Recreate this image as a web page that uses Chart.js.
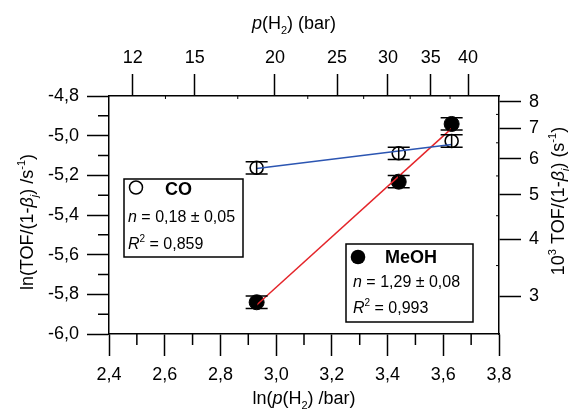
<!DOCTYPE html>
<html>
<head>
<meta charset="utf-8">
<script src="https://cdn.jsdelivr.net/npm/chart.js@4.4.1/dist/chart.umd.min.js"></script>
<style>
html, body { margin: 0; padding: 0; background: #fff; }
</style>
</head>
<body>
<canvas id="myChart" width="569" height="414"></canvas>
<script>
'use strict';

// values
var lnPressure = [2.93, 3.44, 3.63];
var coValues = [-5.162, -5.089, -5.027];
var meohValues = [-5.840, -5.232, -4.941];
var coErrors = [0.031, 0.031, 0.031];
var meohErrors = [0.031, 0.031, 0.031];

// linear fits
var fitX = [2.93, 3.63];
var coFit = [-5.165, -5.044];
var meohFit = [-5.854, -4.963];

// tick labels
var pressureTicks = [12, 15, 20, 25, 30, 35, 40];
var pressureMinor = [13.5, 17.5, 22.5, 27.5, 32.5, 37.5];
var rateTicks = [3, 4, 5, 6, 7, 8];
var rateMinor = [3.5, 4.5, 5.5, 6.5, 7.5];
var xMinor = [2.5, 2.7, 2.9, 3.1, 3.3, 3.5, 3.7];
var yMinor = [-4.9, -5.1, -5.3, -5.5, -5.7, -5.9];

var fontFamily = '"Liberation Sans", Arial, sans-serif';
Chart.defaults.font.family = fontFamily;
Chart.defaults.color = '#000';

function comma(v) {
  return Number(v).toFixed(1).replace('.', ',');
}

function points(xs, ys) {
  var out = [];
  for (var i = 0; i < xs.length; i++) {
    out.push({x: xs[i], y: ys[i]});
  }
  return out;
}

function grid(len) {
  return {display: true, drawOnChartArea: false, drawTicks: true, tickLength: len,
    tickColor: '#000', tickWidth: 1.5, color: '#000'};
}

function border() {
  return {display: true, color: '#000', width: 1.5};
}

// rich text: parts are [text, kind], kind n / i / b / sub / isub / sup
function partFont(kind, size) {
  var small = kind === 'sub' || kind === 'isub' || kind === 'sup';
  var s = small ? Math.round(size * 0.62) : size;
  var style = (kind === 'i' || kind === 'isub') ? 'italic ' : '';
  var weight = kind === 'b' ? 'bold ' : '';
  return style + weight + s + 'px ' + fontFamily;
}

function partShift(kind, size) {
  if (kind === 'sub' || kind === 'isub') return size * 0.28;
  if (kind === 'sup') return -size * 0.42;
  return 0;
}

function drawRich(ctx, parts, x, y, size, align) {
  var widths = [];
  var total = 0;
  for (var i = 0; i < parts.length; i++) {
    ctx.font = partFont(parts[i][1], size);
    var w = ctx.measureText(parts[i][0]).width;
    widths.push(w);
    total += w;
  }
  var cx = align === 'center' ? x - total / 2 : x;
  ctx.textAlign = 'left';
  ctx.textBaseline = 'alphabetic';
  ctx.fillStyle = '#000';
  for (var j = 0; j < parts.length; j++) {
    ctx.font = partFont(parts[j][1], size);
    ctx.fillText(parts[j][0], cx, y + partShift(parts[j][1], size));
    cx += widths[j];
  }
}

function drawRotated(ctx, parts, x, y, size) {
  ctx.save();
  ctx.translate(x, y);
  ctx.rotate(-Math.PI / 2);
  drawRich(ctx, parts, 0, 0, size, 'center');
  ctx.restore();
}

var extras = {
  id: 'extras',
  afterDatasetsDraw: function(chart) {
    var ctx = chart.ctx;
    var sx = chart.scales.x;
    var sy = chart.scales.y;
    ctx.save();
    ctx.strokeStyle = '#000';
    ctx.lineWidth = 1.5;
    // error bars
    [[coValues, coErrors], [meohValues, meohErrors]].forEach(function(s) {
      for (var i = 0; i < lnPressure.length; i++) {
        var px = sx.getPixelForValue(lnPressure[i]);
        var top = sy.getPixelForValue(s[0][i] + s[1][i]);
        var bot = sy.getPixelForValue(s[0][i] - s[1][i]);
        ctx.beginPath();
        ctx.moveTo(px, top); ctx.lineTo(px, bot);
        ctx.moveTo(px - 11, top); ctx.lineTo(px + 11, top);
        ctx.moveTo(px - 11, bot); ctx.lineTo(px + 11, bot);
        ctx.stroke();
      }
    });
    ctx.restore();
  },
  afterDraw: function(chart) {
    var ctx = chart.ctx;
    var a = chart.chartArea;
    var sx = chart.scales.x;
    var sy = chart.scales.y;
    var sx2 = chart.scales.x2;
    var sy2 = chart.scales.y2;
    ctx.save();
    ctx.strokeStyle = '#000';
    ctx.lineWidth = 1.5;
    ctx.beginPath();
    xMinor.forEach(function(v) {
      var px = sx.getPixelForValue(v);
      ctx.moveTo(px, a.bottom); ctx.lineTo(px, a.bottom + 11);
    });
    yMinor.forEach(function(v) {
      var py = sy.getPixelForValue(v);
      ctx.moveTo(a.left - 11, py); ctx.lineTo(a.left, py);
    });
    ctx.stroke();
    ctx.lineWidth = 1;
    ctx.beginPath();
    pressureMinor.forEach(function(p) {
      var px = sx2.getPixelForValue(Math.log(p));
      ctx.moveTo(px, a.top); ctx.lineTo(px, a.top + 3);
    });
    rateMinor.forEach(function(r) {
      var py = sy2.getPixelForValue(Math.log(r / 1000));
      ctx.moveTo(a.right - 3, py); ctx.lineTo(a.right, py);
    });
    ctx.stroke();

    // axis titles
    drawRich(ctx, [['ln(', 'n'], ['p', 'i'], ['(H', 'n'], ['2', 'sub'], [') /bar)', 'n']],
      (a.left + a.right) / 2, 404, 18, 'center');
    drawRich(ctx, [['p', 'i'], ['(H', 'n'], ['2', 'sub'], [') (bar)', 'n']],
      294, 29, 18, 'center');
    drawRotated(ctx, [['ln(TOF/(1-', 'n'], ['\u03B2', 'i'], ['j', 'isub'], [') /s', 'n'], ['-1', 'sup'], [')', 'n']],
      33, 222, 18);
    drawRotated(ctx, [['10', 'n'], ['3', 'sup'], [' TOF/(1-', 'n'], ['\u03B2', 'i'], ['j', 'isub'], [') (s', 'n'], ['-1', 'sup'], [')', 'n']],
      564, 201, 18);

    // fit boxes
    ctx.lineWidth = 1.5;
    var bx = a.left + 15, by = a.top + 83;
    ctx.strokeRect(bx, by, 119, 78);
    ctx.beginPath();
    ctx.arc(bx + 12, by + 8.5, 6.5, 0, Math.PI * 2);
    ctx.fillStyle = '#fff';
    ctx.fill();
    ctx.stroke();
    drawRich(ctx, [['CO', 'b']], bx + 41, by + 16, 18, 'left');
    drawRich(ctx, [['n', 'i'], [' = 0,18 \u00B1 0,05', 'n']], bx + 4, by + 43, 16, 'left');
    drawRich(ctx, [['R', 'i'], ['2', 'sup'], [' = 0,859', 'n']], bx + 4, by + 70, 16, 'left');

    var mx = a.left + 237, my = a.top + 148;
    ctx.strokeRect(mx, my, 127, 78);
    ctx.beginPath();
    ctx.arc(mx + 12, my + 13, 7.3, 0, Math.PI * 2);
    ctx.fillStyle = '#000';
    ctx.fill();
    drawRich(ctx, [['MeOH', 'b']], mx + 39, my + 19, 18, 'left');
    drawRich(ctx, [['n', 'i'], [' = 1,29 \u00B1 0,08', 'n']], mx + 7, my + 43, 16, 'left');
    drawRich(ctx, [['R', 'i'], ['2', 'sup'], [' = 0,993', 'n']], mx + 7, my + 69, 16, 'left');
    ctx.restore();
  }
};

var ctx = document.getElementById('myChart');

var myChart = new Chart(ctx, {
  type: 'scatter',
  data: {
    datasets: [{
      label: 'CO fit',
      data: points(fitX, coFit),
      showLine: true,
      borderColor: '#2c55b2',
      borderWidth: 1.5,
      pointRadius: 0,
      order: 0
    }, {
      label: 'MeOH fit',
      data: points(fitX, meohFit),
      showLine: true,
      borderColor: '#e4252a',
      borderWidth: 1.5,
      pointRadius: 0,
      order: 0
    }, {
      label: 'CO',
      data: points(lnPressure, coValues),
      pointRadius: 6.5,
      pointBackgroundColor: '#fff',
      pointBorderColor: '#000',
      pointBorderWidth: 1.6,
      order: 1
    }, {
      label: 'MeOH',
      data: points(lnPressure, meohValues),
      pointRadius: 7.5,
      pointBackgroundColor: '#000',
      pointBorderColor: '#000',
      pointBorderWidth: 1,
      order: 1
    }]
  },
  options: {
    responsive: false,
    animation: false,
    layout: {padding: 0},
    plugins: {
      legend: {display: false},
      tooltip: {enabled: false}
    },
    scales: {
      x: {
        type: 'linear',
        position: 'bottom',
        min: 2.4,
        max: 3.8,
        grid: grid(22),
        border: border(),
        ticks: {stepSize: 0.2, padding: 8, autoSkip: false, maxRotation: 0,
          font: {size: 18}, callback: comma},
        afterFit: function(s) { s.height = 80; }
      },
      y: {
        type: 'linear',
        position: 'left',
        min: -6.0,
        max: -4.8,
        grid: grid(22),
        border: border(),
        ticks: {stepSize: 0.2, padding: 8, autoSkip: false, font: {size: 18}, callback: comma},
        afterFit: function(s) { s.width = 109; }
      },
      x2: {
        type: 'linear',
        position: 'top',
        min: 2.4,
        max: 3.8,
        grid: grid(22),
        border: border(),
        ticks: {padding: 5, autoSkip: false, maxRotation: 0, font: {size: 18},
          callback: function(v, i) { return pressureTicks[i]; }},
        afterBuildTicks: function(s) {
          s.ticks = pressureTicks.map(function(p) { return {value: Math.log(p)}; });
        },
        afterFit: function(s) { s.height = 96; }
      },
      y2: {
        type: 'linear',
        position: 'right',
        min: -6.0,
        max: -4.8,
        grid: grid(22),
        border: border(),
        ticks: {padding: 8, autoSkip: false, font: {size: 18},
          callback: function(v, i) { return rateTicks[i]; }},
        afterBuildTicks: function(s) {
          s.ticks = rateTicks.map(function(r) { return {value: Math.log(r / 1000)}; });
        },
        afterFit: function(s) { s.width = 70; }
      }
    }
  },
  plugins: [extras]
});
</script>
</body>
</html>
